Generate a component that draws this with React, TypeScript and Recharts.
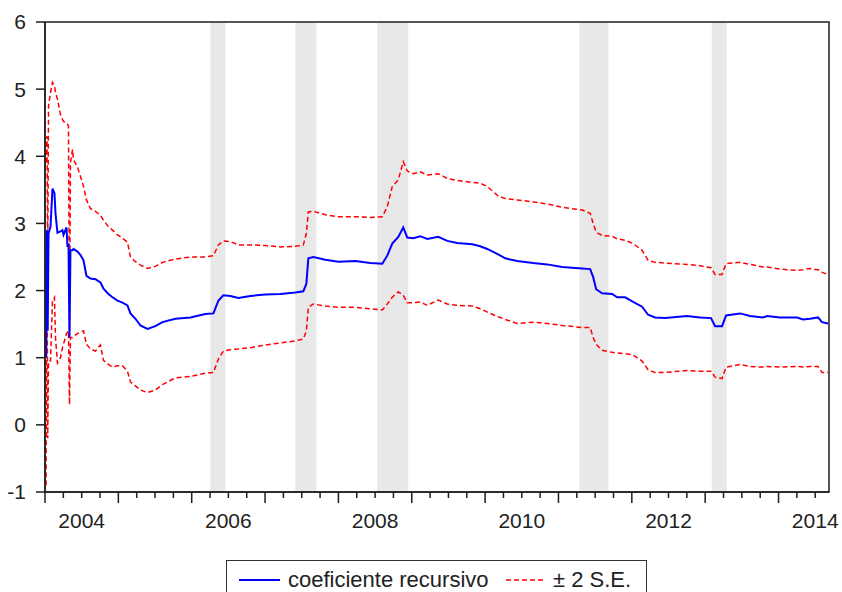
import React from "react"
import { LineChart, Line, XAxis, YAxis, ReferenceArea } from "recharts"

// decimal years of the plotted observations
const dates = [
  2004.014, 2004.027, 2004.037, 2004.048, 2004.075, 2004.102, 2004.129, 2004.143, 2004.17, 2004.211,
  2004.238, 2004.252, 2004.293, 2004.307, 2004.32, 2004.334, 2004.347, 2004.375, 2004.388, 2004.443,
  2004.484, 2004.525, 2004.565, 2004.62, 2004.688, 2004.756, 2004.797, 2004.865, 2004.92, 2004.988,
  2005.056, 2005.124, 2005.165, 2005.233, 2005.301, 2005.396, 2005.505, 2005.601, 2005.778, 2005.982,
  2006.187, 2006.296, 2006.364, 2006.432, 2006.527, 2006.636, 2006.8, 2007.004, 2007.208, 2007.413,
  2007.522, 2007.563, 2007.59, 2007.658, 2007.822, 2007.999, 2008.23, 2008.435, 2008.598, 2008.666,
  2008.734, 2008.816, 2008.884, 2008.939, 2009.02, 2009.116, 2009.211, 2009.361, 2009.484, 2009.62,
  2009.824, 2009.933, 2010.029, 2010.178, 2010.274, 2010.437, 2010.655, 2010.846, 2011.05, 2011.323,
  2011.432, 2011.473, 2011.514, 2011.595, 2011.732, 2011.8, 2011.909, 2012.018, 2012.14, 2012.222,
  2012.317, 2012.454, 2012.753, 2012.93, 2013.08, 2013.135, 2013.23, 2013.285, 2013.475, 2013.612,
  2013.789, 2013.843, 2014.02, 2014.252, 2014.334, 2014.429, 2014.538, 2014.593, 2014.674,
]

const coef = [
  1.0, 2.9, 1.4, 2.85, 2.95, 3.52, 3.45, 3.15, 2.86, 2.88,
  2.9, 2.83, 2.94, 2.65, 2.7, 1.3, 2.6, 2.6, 2.62, 2.58,
  2.53, 2.45, 2.22, 2.18, 2.17, 2.12, 2.03, 1.95, 1.9, 1.85,
  1.82, 1.78, 1.66, 1.58, 1.48, 1.43, 1.47, 1.53, 1.58, 1.6,
  1.65, 1.66, 1.85, 1.93, 1.92, 1.89, 1.92, 1.94, 1.95, 1.97,
  1.99, 2.1, 2.48, 2.5, 2.46, 2.43, 2.44, 2.41, 2.4, 2.52,
  2.7, 2.8, 2.94, 2.79, 2.78, 2.81, 2.77, 2.8, 2.74, 2.71,
  2.69, 2.66, 2.62, 2.54, 2.48, 2.44, 2.41, 2.39, 2.35, 2.33,
  2.32, 2.2, 2.02, 1.96, 1.95, 1.9, 1.9, 1.83, 1.76, 1.64,
  1.6, 1.59, 1.62, 1.6, 1.59, 1.47, 1.47, 1.63, 1.66, 1.62,
  1.6, 1.62, 1.6, 1.6, 1.57, 1.58, 1.6, 1.53, 1.51,
]

const upper = [
  3.9, 4.3, 2.5, 4.75, 4.95, 5.1, 5.05, 4.95, 4.85, 4.62,
  4.55, 4.52, 4.5, 4.48, 4.45, 1.4, 3.9, 4.1, 3.95, 3.84,
  3.7, 3.55, 3.35, 3.22, 3.18, 3.12, 3.05, 2.95, 2.9, 2.83,
  2.78, 2.72, 2.5, 2.43, 2.38, 2.33, 2.36, 2.42, 2.47, 2.5,
  2.5, 2.52, 2.68, 2.74, 2.73, 2.68, 2.68, 2.67, 2.65, 2.66,
  2.68, 2.85, 3.17, 3.18, 3.13, 3.1, 3.1, 3.09, 3.1, 3.25,
  3.55, 3.65, 3.92, 3.78, 3.74, 3.77, 3.72, 3.74, 3.67, 3.64,
  3.61, 3.6, 3.55, 3.41, 3.37, 3.35, 3.32, 3.29, 3.24, 3.2,
  3.15, 3.0, 2.87, 2.82, 2.81, 2.77, 2.75, 2.7, 2.6, 2.45,
  2.42, 2.41, 2.39, 2.37, 2.34, 2.24, 2.24, 2.4, 2.42, 2.39,
  2.35, 2.35, 2.32, 2.3, 2.31, 2.33, 2.31, 2.27, 2.24,
]

const lower = [
  -0.9, 2.8, -0.2, 0.95, 0.95, 1.85, 1.9, 1.3, 0.92, 1.0,
  1.15, 1.2, 1.36, 1.38, 1.4, 0.3, 1.3, 1.3, 1.32, 1.36,
  1.38, 1.4, 1.2, 1.13, 1.1, 1.19, 0.96, 0.9, 0.86, 0.88,
  0.88, 0.8, 0.64, 0.58, 0.52, 0.48, 0.52, 0.6, 0.7, 0.72,
  0.77, 0.78, 0.98, 1.1, 1.12, 1.13, 1.15, 1.19, 1.22, 1.25,
  1.28, 1.4, 1.75, 1.8, 1.77, 1.75, 1.75, 1.73, 1.71, 1.8,
  1.9, 1.98, 1.93, 1.82, 1.82, 1.83, 1.78, 1.86, 1.8, 1.78,
  1.77, 1.73, 1.68, 1.61, 1.57, 1.51, 1.53, 1.51, 1.48, 1.45,
  1.45, 1.3, 1.2, 1.11, 1.08, 1.07, 1.06, 1.04, 0.95, 0.82,
  0.78, 0.78, 0.81, 0.8, 0.8, 0.71, 0.69, 0.86, 0.9, 0.87,
  0.86, 0.87, 0.86, 0.87, 0.86, 0.87, 0.87, 0.78, 0.78,
]

// shaded periods
const bandStart = [2006.255, 2007.413, 2008.53, 2011.286, 2013.09]
const bandEnd = [2006.459, 2007.699, 2008.952, 2011.681, 2013.294]

const yearLabels = [2004, 2006, 2008, 2010, 2012, 2014]
const yTicks = [-1, 0, 1, 2, 3, 4, 5, 6]

const X_MIN = 2004
const X_MAX = 2014.688
const FONT = '"Liberation Sans", Arial, sans-serif'
const AXIS = "#1e1e1e"

const rows = dates.map((t, i) => ({ t, coef: coef[i], upper: upper[i], lower: lower[i] }))

const quarterTicks: number[] = []
for (let q = 0; 2004 + q / 4 <= X_MAX; q++) quarterTicks.push(2004 + q / 4)

const QuarterTick = (props: any) => {
  const { x, y, payload } = props
  const v = payload.value
  const wholeYear = Math.abs(v - Math.round(v)) < 1e-6
  const label = yearLabels.find((yr) => Math.abs(yr + 0.5 - v) < 1e-6)
  return (
    <g>
      <line x1={x} x2={x} y1={y} y2={y + (wholeYear ? 11 : 6)} stroke={AXIS} strokeWidth={1.5} />
      {label !== undefined && (
        <text x={x} y={y + 36} textAnchor="middle" fontSize={21} fill="#222" fontFamily={FONT}>
          {label}
        </text>
      )}
    </g>
  )
}

export default function App() {
  return (
    <div style={{ position: "absolute", left: 0, top: 0, width: 842, height: 592, background: "#fff" }}>
      <LineChart width={842} height={592} data={rows} margin={{ top: 22, right: 13, left: 0, bottom: 60 }}>
        {bandStart.map((s, i) => (
          <ReferenceArea key={i} x1={s} x2={bandEnd[i]} fill="#e8e8e8" fillOpacity={1} stroke="none" />
        ))}
        <XAxis
          dataKey="t"
          type="number"
          domain={[X_MIN, X_MAX]}
          allowDataOverflow
          ticks={quarterTicks}
          interval={0}
          tick={<QuarterTick />}
          tickLine={false}
          tickSize={0}
          tickMargin={0}
          height={40}
          axisLine={{ stroke: AXIS, strokeWidth: 1.5 }}
        />
        <YAxis
          type="number"
          domain={[-1, 6]}
          ticks={yTicks}
          interval={0}
          width={45}
          tickSize={9}
          tickMargin={10}
          tickLine={{ stroke: AXIS, strokeWidth: 1.5 }}
          axisLine={{ stroke: AXIS, strokeWidth: 1.5 }}
          tick={{ fontSize: 21, fill: "#222", fontFamily: FONT }}
        />
        <Line dataKey="upper" stroke="#ff0000" strokeWidth={1.5} strokeDasharray="5 3" dot={false} isAnimationActive={false} />
        <Line dataKey="lower" stroke="#ff0000" strokeWidth={1.5} strokeDasharray="5 3" dot={false} isAnimationActive={false} />
        <Line dataKey="coef" stroke="#0000ff" strokeWidth={2} dot={false} isAnimationActive={false} />
        <ReferenceArea x1={X_MIN} x2={X_MAX} y1={-1} y2={6} fill="none" stroke={AXIS} strokeWidth={1.5} />
      </LineChart>
      <div
        style={{
          position: "absolute",
          left: 226,
          top: 560,
          width: 421,
          height: 50,
          border: "1.5px solid #333",
          boxSizing: "border-box",
          fontFamily: FONT,
          fontSize: 22,
          color: "#222",
        }}
      >
        <svg width={421} height={40} style={{ position: "absolute", left: 0, top: 0 }}>
          <line x1={12} x2={53} y1={19} y2={19} stroke="#0000ff" strokeWidth={2} />
          <line x1={279} x2={317} y1={19} y2={19} stroke="#ff0000" strokeWidth={1.5} strokeDasharray="5 3" />
        </svg>
        <span style={{ position: "absolute", left: 61, top: 6, whiteSpace: "nowrap" }}>coeficiente recursivo</span>
        <span style={{ position: "absolute", left: 326, top: 6, whiteSpace: "nowrap" }}>± 2 S.E.</span>
      </div>
    </div>
  )
}
